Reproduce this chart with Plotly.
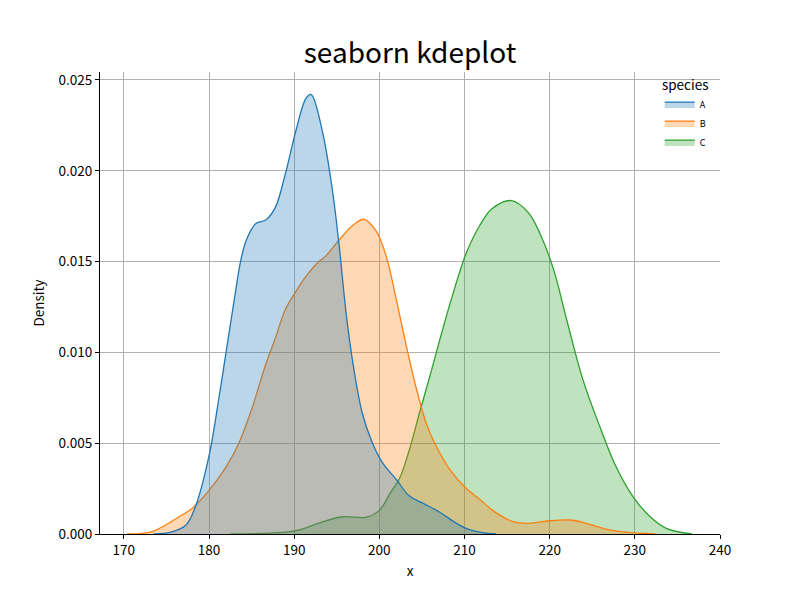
import plotly.graph_objects as go

FONT = "Noto Sans CJK JP, Noto Sans, DejaVu Sans, sans-serif"

# Species A (blue)
a_x = [173.5, 175.5, 177.3, 178.4, 180.0, 181.2, 182.0, 183.1, 183.7, 184.4, 185.5, 186.7,
       187.8, 189.0, 190.2, 191.4, 192.0, 193.3, 194.5, 195.3, 196.1, 196.9, 198.0, 199.2,
       200.4, 202.0, 203.5, 205.1, 207.1, 209.0, 210.5, 212.1, 213.7]
a_y = [0.0, 0.0001, 0.0005, 0.0015, 0.0043, 0.0076, 0.0100, 0.0133, 0.0150, 0.0162, 0.0171, 0.0173,
       0.0180, 0.0199, 0.0222, 0.0240, 0.0242, 0.0222, 0.0189, 0.0158, 0.01215, 0.0094, 0.00665, 0.0050,
       0.0039, 0.0030, 0.0021, 0.0017, 0.0012, 0.0006, 0.00025, 0.00007, 0.0]

# Species B (orange)
b_x = [170.4, 173.3, 176.5, 178.0, 180.0, 182.0, 183.5, 185.1, 186.7, 187.8, 189.0, 190.4,
       191.4, 192.9, 193.7, 195.3, 196.9, 198.2, 199.6, 200.8, 202.0, 203.1, 204.3, 205.5,
       206.5, 208.2, 210.0, 211.8, 213.3, 214.1, 215.7, 217.6, 220.0, 222.4, 224.3, 226.7,
       229.0, 232.4]
b_y = [0.0, 0.00013, 0.00095, 0.0014, 0.0024, 0.0037, 0.0050, 0.0070, 0.0094, 0.0108, 0.0124, 0.0135,
       0.0142, 0.0150, 0.0153, 0.0162, 0.0170, 0.01733, 0.0167, 0.0153, 0.0129, 0.0105, 0.0081, 0.0061,
       0.0050, 0.0036, 0.0026, 0.0019, 0.0013, 0.00105, 0.00068, 0.00059, 0.00073, 0.00077, 0.00059, 0.00026,
       0.0001, 0.0]

# Species C (green)
c_x = [182.5, 186.0, 189.0, 190.6, 192.9, 195.7, 198.4, 200.0, 201.2, 202.4, 203.5, 204.7,
       206.0, 207.1, 208.5, 210.2, 211.8, 213.2, 215.5, 217.5, 219.0, 220.5, 222.0, 223.9,
       225.9, 227.8, 229.8, 231.8, 233.7, 236.7]
c_y = [0.0, 0.00003, 0.0001, 0.00022, 0.0006, 0.00095, 0.00092, 0.0013, 0.0022, 0.0031, 0.0046, 0.00665,
       0.0088, 0.0107, 0.0130, 0.01546, 0.0170, 0.0179, 0.01836, 0.0177, 0.0164, 0.0145, 0.0118, 0.0085,
       0.0059, 0.0037, 0.00205, 0.00095, 0.00031, 0.0]

# drawn in reverse order (as seaborn does), legend shows A, B, C
series = [
    ("C", c_x, c_y, "#2ca02c", "rgba(44,160,44,0.3)"),
    ("B", b_x, b_y, "#ff7f0e", "rgba(255,127,14,0.3)"),
    ("A", a_x, a_y, "#1f77b4", "rgba(31,119,180,0.3)"),
]

x_ticks = [170, 180, 190, 200, 210, 220, 230, 240]
y_ticks = [0.0, 0.005, 0.010, 0.015, 0.020, 0.025]

fig = go.Figure()
for name, xs, ys, col, fillc in series:
    fig.add_trace(go.Scatter(
        x=xs, y=ys, name=name, mode="lines",
        line=dict(color=col, width=1.3, shape="spline", smoothing=1.0),
        fill="tozeroy", fillcolor=fillc,
    ))

fig.update_layout(
    width=800, height=600,
    margin=dict(l=100, r=80, t=72, b=66),
    paper_bgcolor="white", plot_bgcolor="white",
    font=dict(family=FONT, color="black", size=13),
    title=dict(text="seaborn kdeplot", x=410 / 800, xanchor="center",
               y=1 - 53 / 600, yanchor="middle",
               font=dict(family=FONT, size=28, color="black")),
    legend=dict(
        title=dict(text="species", side="top center", font=dict(size=13.5)),
        x=0.985, xanchor="right", y=1.0, yanchor="top",
        font=dict(size=9), bgcolor="rgba(0,0,0,0)", borderwidth=0,
        itemwidth=30, tracegroupgap=0, traceorder="reversed",
    ),
    showlegend=True,
)
fig.update_xaxes(
    range=[167.2, 240], tickvals=x_ticks, ticktext=[str(v) for v in x_ticks],
    showgrid=True, gridcolor="#b0b0b0", gridwidth=0.8,
    showline=True, linecolor="black", linewidth=1,
    ticks="outside", ticklen=4, tickcolor="black",
    zeroline=False, title=dict(text="x", font=dict(size=13.5), standoff=8),
    tickfont=dict(size=13.5),
)
fig.update_yaxes(
    range=[0, 0.02544], tickvals=y_ticks, tickformat=".3f",
    showgrid=True, gridcolor="#b0b0b0", gridwidth=0.8,
    showline=True, linecolor="black", linewidth=1,
    ticks="outside", ticklen=4, tickcolor="black",
    zeroline=False, title=dict(text="Density", font=dict(size=13.5), standoff=10),
    tickfont=dict(size=13.5),
)

fig.write_html("out.html")
